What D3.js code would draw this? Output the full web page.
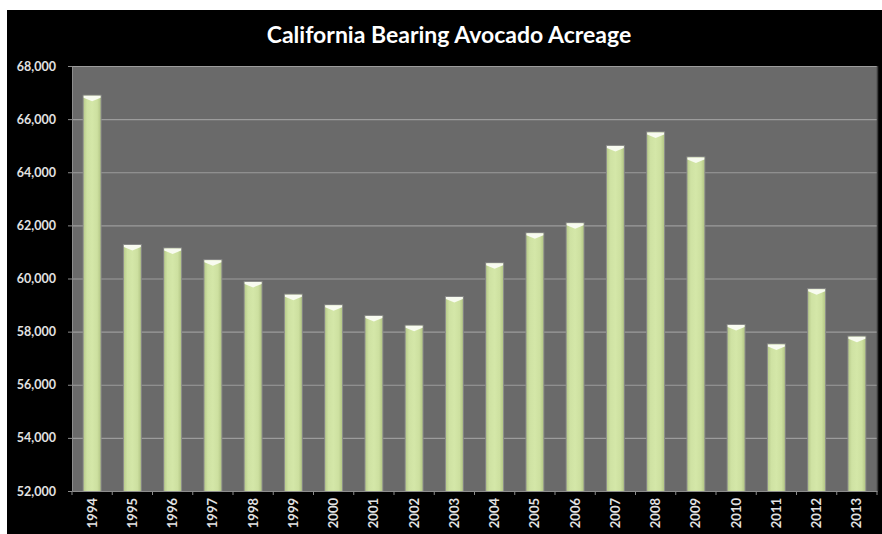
<!DOCTYPE html>
<html><head><meta charset="utf-8">
<script src="https://cdn.jsdelivr.net/npm/d3@7"></script>
<style>html,body{margin:0;padding:0;background:#fff;}svg{display:block;}</style>
</head><body>
<script>
const years = ["1994","1995","1996","1997","1998","1999","2000","2001","2002","2003","2004","2005","2006","2007","2008","2009","2010","2011","2012","2013"];
const acres = [66880,61260,61130,60690,59870,59390,58990,58590,58220,59300,60570,61700,62080,64990,65500,64560,58250,57520,59600,57810];
const yTicks = [52000,54000,56000,58000,60000,62000,64000,66000,68000];
const titleText = "California Bearing Avocado Acreage";

const W = 882, H = 534;
const svg = d3.select("body").append("svg").attr("width", W).attr("height", H);
const defs = svg.append("defs");
const g1 = defs.append("linearGradient").attr("id","barGrad").attr("x1","0").attr("x2","1").attr("y1","0").attr("y2","0");
g1.append("stop").attr("offset","0").attr("stop-color","#b9cc8c");
g1.append("stop").attr("offset","0.2").attr("stop-color","#cfe2a3");
g1.append("stop").attr("offset","0.5").attr("stop-color","#d4e7a8");
g1.append("stop").attr("offset","0.8").attr("stop-color","#cde0a0");
g1.append("stop").attr("offset","1").attr("stop-color","#b4c786");

svg.append("rect").attr("x",7).attr("y",10).attr("width",W-7).attr("height",H-10).attr("fill","#000");

const m = {left:72, right:877, top:66, bottom:491};
const x = d3.scaleBand().domain(years).range([m.left, m.right]).paddingInner(0.58).paddingOuter(0.29);
const y = d3.scaleLinear().domain([52000,68000]).range([m.bottom, m.top]);

svg.append("rect").attr("x",m.left).attr("y",m.top).attr("width",m.right-m.left).attr("height",m.bottom-m.top).attr("fill","#6a6a6a");

// gridlines
svg.append("g").selectAll("line").data(yTicks.slice(1)).join("line")
  .attr("x1",m.left).attr("x2",m.right).attr("y1",d=>y(d)+0.5).attr("y2",d=>y(d)+0.5)
  .attr("stroke","#9c9c9c").attr("stroke-width",1.2);

// right border
svg.append("line").attr("x1",m.right+0.5).attr("x2",m.right+0.5).attr("y1",m.top).attr("y2",m.bottom)
  .attr("stroke","#3c3c3c").attr("stroke-width",1.5);

// bars
const bars = svg.append("g");
bars.selectAll("rect.shadow").data(years).join("rect").attr("class","shadow")
  .attr("x",(d)=>x(d)-1).attr("y",(d,i)=>y(acres[i])-1)
  .attr("width",x.bandwidth()+2).attr("height",(d,i)=>m.bottom-y(acres[i])+1)
  .attr("fill","#8a8a8a");
bars.selectAll("rect.bar").data(years).join("rect").attr("class","bar")
  .attr("x",d=>x(d)).attr("y",(d,i)=>y(acres[i]))
  .attr("width",x.bandwidth()).attr("height",(d,i)=>m.bottom-y(acres[i]))
  .attr("fill","url(#barGrad)");
bars.selectAll("path.cap").data(years).join("path").attr("class","cap")
  .attr("d",(d,i)=>{
    const x0 = x(d), w = x.bandwidth(), t = y(acres[i]);
    return `M${x0},${t} L${x0+w},${t} L${x0+w},${t+2} L${x0+w/2},${t+5.5} L${x0},${t+2} Z`;
  })
  .attr("fill","#f8fbf0");

// y axis
const yAxis = d3.axisLeft(y).tickValues(yTicks).tickFormat(d3.format(",")).tickSize(4).tickPadding(12);
const ya = svg.append("g").attr("transform",`translate(${m.left},0)`).call(yAxis);
ya.select(".domain").attr("stroke","#8c8c8c");
ya.selectAll(".tick line").attr("stroke","#8c8c8c");
ya.selectAll("text").attr("fill","#e2e2e2").attr("font-family","Lato").attr("font-weight","bold").attr("font-size","12.5px");

// x axis
const xAxis = d3.axisBottom(x).tickSize(0).tickPadding(6);
const xa = svg.append("g").attr("transform",`translate(0,${m.bottom})`).call(xAxis);
xa.select(".domain").attr("stroke","#8c8c8c");
xa.selectAll("text").attr("fill","#e2e2e2").attr("font-family","Lato").attr("font-weight","bold").attr("font-size","13px")
  .attr("transform","rotate(-90)").attr("text-anchor","end").attr("dy","0.35em").attr("x",-7).attr("y",0);
// tick marks at band boundaries
const bounds = years.map(d => x(d) - x.step()*x.paddingInner()/2).concat([m.right]);
xa.append("g").selectAll("line").data(bounds).join("line")
  .attr("x1",d=>d).attr("x2",d=>d).attr("y1",0).attr("y2",4).attr("stroke","#8c8c8c");

svg.append("text").attr("x",449).attr("y",43).attr("text-anchor","middle")
  .attr("fill","#fff").attr("font-family","Lato").attr("font-weight","bold").attr("font-size","23px")
  .text(titleText);
</script>
</body></html>
